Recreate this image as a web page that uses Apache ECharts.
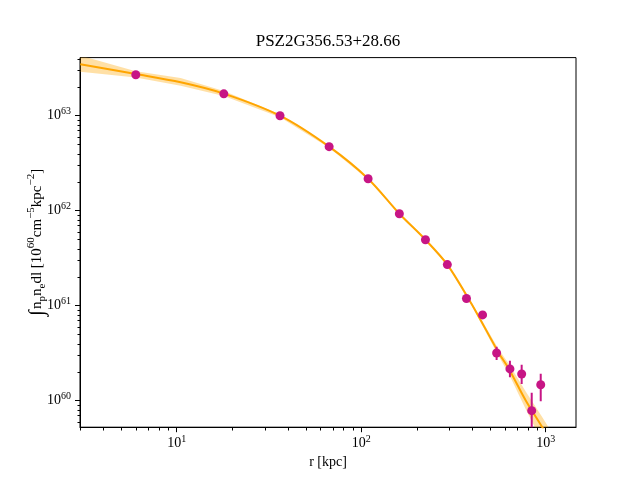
<!DOCTYPE html>
<html lang="en">
<head>
<meta charset="UTF-8">
<title>PSZ2G356.53+28.66</title>
<script src="https://cdn.jsdelivr.net/npm/echarts@6.0.0/dist/echarts.min.js"></script>
<style>
  body { margin: 0; background: #fff; }
  #main { width: 640px; height: 480px; }
</style>
</head>
<body>
<div id="main"></div>
<script>
// measured profile points (r in kpc)
const radius = [6.0, 18.0, 36.3, 67, 109, 161, 223, 293, 372, 455, 542, 640, 741, 840, 940];
const brightness = [2.7e63, 1.70e63, 1.0e63, 4.72e62, 2.17e62, 9.3e61, 4.95e61, 2.71e61, 1.19e61, 8.0e60, 3.18e60, 2.16e60, 1.91e60, 7.85e59, 1.47e60];
const errLow = [2.62e63, 1.65e63, 0.97e63, 4.6e62, 2.12e62, 9.1e61, 4.85e61, 2.65e61, 1.15e61, 7.6e60, 2.68e60, 1.76e60, 1.50e60, 2e59, 9.85e59];
const errHigh = [2.78e63, 1.75e63, 1.03e63, 4.85e62, 2.22e62, 9.5e61, 5.05e61, 2.77e61, 1.23e61, 8.4e60, 3.70e60, 2.64e60, 2.39e60, 1.21e60, 1.92e60];

// best fit model and its uncertainty band
const fitR = [3.0, 6.0, 10.5, 18.0, 36.3, 67, 109, 161, 223, 293, 396, 557, 632, 781, 959, 1080];
const fitV = [3.48e63, 2.75e63, 2.25e63, 1.71e63, 1.0e63, 4.72e62, 2.17e62, 9.3e61, 4.95e61, 2.71e61, 1.05e61, 3.18e60, 2.16e60, 1.0e60, 5.24e59, 3.5e59];
const bandLow = [2.9e63, 2.53e63, 2.07e63, 1.61e63, 0.965e63, 4.6e62, 2.13e62, 9.1e61, 4.83e61, 2.63e61, 1.01e61, 2.92e60, 1.91e60, 8.1e59, 3.66e59, 2.33e59];
const bandHigh = [4.3e63, 2.93e63, 2.5e63, 1.82e63, 1.037e63, 4.84e62, 2.21e62, 9.5e61, 5.07e61, 2.79e61, 1.09e61, 3.46e60, 2.44e60, 1.24e60, 6.7e59, 4.6e59];

// ticks
const xMajor = [10, 100, 1000];
const xMinor = [3, 4, 5, 6, 7, 8, 9, 20, 30, 40, 50, 60, 70, 80, 90, 200, 300, 400, 500, 600, 700, 800, 900];
const yMajor = [1e60, 1e61, 1e62, 1e63];
const yMinor = [6e59, 7e59, 8e59, 9e59, 2e60, 3e60, 4e60, 5e60, 6e60, 7e60, 8e60, 9e60,
  2e61, 3e61, 4e61, 5e61, 6e61, 7e61, 8e61, 9e61, 2e62, 3e62, 4e62, 5e62, 6e62, 7e62, 8e62, 9e62,
  2e63, 3e63, 4e63];

const serif = 'Liberation Serif';
const xMin = 2.99, xMax = 1460, yMin = 5.26e59, yMax = 4.09e63;
const minorLen = 3;

const powLabel = v => '10{s|' + Math.round(Math.log10(v)) + '}';
const tickRich = {
  s: { fontFamily: serif, fontSize: 10, lineHeight: 10, verticalAlign: 'top', color: '#000' }
};

const bandPoly = fitR.map((r, i) => [r, bandHigh[i]])
  .concat(fitR.map((r, i) => [r, bandLow[i]]).reverse());

let myChart = echarts.init(document.getElementById('main'), null, { renderer: 'canvas' });

// short outward minor tick at a value on the bottom (dir 'x') or left (dir 'y') spine
const minorTickSeries = (values, dir) => ({
  type: 'custom',
  clip: false, silent: true, z: 5,
  data: values.map(v => dir === 'x' ? [v, yMin] : [xMin, v]),
  renderItem: (params, api) => {
    const p = api.coord([api.value(0), api.value(1)]);
    const x = Math.round(p[0]) + 0.5, y = Math.round(p[1]) + 0.5;
    const shape = dir === 'x'
      ? { x1: x, y1: y, x2: x, y2: y + minorLen }
      : { x1: x - minorLen, y1: y, x2: x, y2: y };
    return { type: 'line', shape, style: { stroke: '#000', lineWidth: 1 } };
  }
});

let options = {
  animation: false,
  backgroundColor: '#fff',
  title: {
    text: 'PSZ2G356.53+28.66',
    left: 328,
    top: 33,
    padding: 0,
    textAlign: 'center',
    textStyle: { fontFamily: serif, fontSize: 17, fontWeight: 'normal', color: '#000' }
  },
  grid: {
    left: 80, right: 64, top: 57.6, bottom: 52.8,
    show: true, borderColor: '#000', borderWidth: 1, backgroundColor: 'transparent'
  },
  xAxis: {
    type: 'log', min: xMin, max: xMax, position: 'bottom',
    axisLine: { lineStyle: { color: '#000', width: 1 } },
    axisTick: { length: 5, customValues: xMajor, lineStyle: { color: '#000' } },
    axisLabel: { customValues: xMajor, formatter: powLabel, rich: tickRich, margin: 7,
      fontFamily: serif, fontSize: 14, lineHeight: 18, color: '#000' },
    splitLine: { show: false },
    name: 'r [kpc]', nameLocation: 'middle', nameGap: 28, nameMoveOverlap: false,
    nameTextStyle: { fontFamily: serif, fontSize: 14, color: '#000' }
  },
  yAxis: {
    type: 'log', min: yMin, max: yMax, position: 'left',
    axisLine: { lineStyle: { color: '#000', width: 1 } },
    axisTick: { length: 5, customValues: yMajor, lineStyle: { color: '#000' } },
    axisLabel: { customValues: yMajor, formatter: powLabel, rich: tickRich, margin: 9,
      fontFamily: serif, fontSize: 14, lineHeight: 18, color: '#000' },
    splitLine: { show: false },
    name: '{i|∫}{g| }n{sub|p}n{sub|e}dl [10{sup|60}cm{sup|−5}kpc{sup|−2}]',
    nameLocation: 'middle', nameRotate: 90, nameGap: 32, nameMoveOverlap: false,
    nameTextStyle: {
      fontFamily: serif, fontSize: 15, lineHeight: 22, color: '#000',
      rich: {
        i: { fontFamily: serif, fontSize: 21, lineHeight: 22, color: '#000' },
        g: { fontFamily: serif, fontSize: 5, lineHeight: 22 },
        sub: { fontFamily: serif, fontSize: 11, lineHeight: 11, verticalAlign: 'bottom', color: '#000' },
        sup: { fontFamily: serif, fontSize: 11, lineHeight: 11, verticalAlign: 'top', color: '#000' }
      }
    }
  },
  series: [
    {
      // uncertainty band of the fit
      type: 'custom',
      clip: true, silent: true, z: 1,
      data: [[fitR[0], fitV[0]]],
      renderItem: (params, api) => ({
        type: 'polygon',
        shape: { points: bandPoly.map(p => api.coord(p)) },
        style: { fill: 'rgba(255,165,0,0.35)' }
      })
    },
    {
      type: 'line',
      data: fitR.map((r, i) => [r, fitV[i]]),
      smooth: 0.3, showSymbol: false, clip: true, z: 2,
      lineStyle: { color: '#ffa500', width: 2 }
    },
    {
      // error bars
      type: 'custom',
      clip: true, z: 3,
      data: radius.map((r, i) => [r, errLow[i], errHigh[i]]),
      encode: { x: 0, y: [1, 2] },
      renderItem: (params, api) => {
        const lo = api.coord([api.value(0), api.value(1)]);
        const hi = api.coord([api.value(0), api.value(2)]);
        return {
          type: 'line',
          shape: { x1: lo[0], y1: lo[1], x2: hi[0], y2: hi[1] },
          style: { stroke: '#c71585', lineWidth: 2 }
        };
      }
    },
    {
      type: 'scatter',
      data: radius.map((r, i) => [r, brightness[i]]),
      symbolSize: 9, z: 4,
      itemStyle: { color: '#c71585', opacity: 1 }
    },
    minorTickSeries(xMinor, 'x'),
    minorTickSeries(yMinor, 'y')
  ]
};

myChart.setOption(options);
</script>
</body>
</html>
